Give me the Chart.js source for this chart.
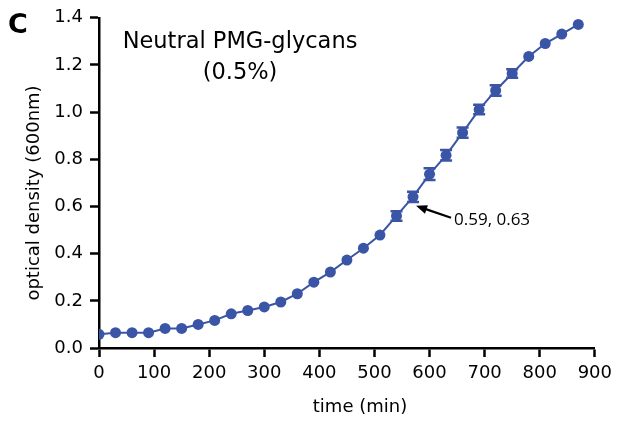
<!DOCTYPE html>
<html>
<head>
<meta charset="utf-8">
<script src="https://cdn.jsdelivr.net/npm/chart.js@4/dist/chart.umd.min.js"></script>
<style>
  html, body { margin: 0; padding: 0; background: #fff; }
  #wrap { width: 618px; height: 422px; position: relative; }
</style>
</head>
<body>
<div id="wrap"><canvas id="growth"></canvas></div>
<script>
// growth curve, one reading every 30 min
const times = [0, 30, 60, 90, 120, 150, 180, 210, 240, 270, 300, 330, 360, 390, 420,
  450, 480, 510, 540, 570, 600, 630, 660, 690, 720, 750, 780, 810, 840, 870];
const od600 = [0.058, 0.065, 0.065, 0.065, 0.083, 0.083, 0.100, 0.117, 0.145, 0.159,
  0.174, 0.195, 0.230, 0.279, 0.322, 0.373, 0.423, 0.479, 0.560, 0.641,
  0.737, 0.817, 0.913, 1.011, 1.092, 1.164, 1.236, 1.291, 1.331, 1.372];
const sem = [0, 0, 0, 0, 0, 0, 0, 0, 0, 0,
  0, 0, 0, 0, 0, 0, 0, 0, 0.02, 0.022,
  0.025, 0.022, 0.022, 0.02, 0.022, 0.018, 0, 0, 0, 0];
const xTicks = [0, 100, 200, 300, 400, 500, 600, 700, 800, 900];
const yTicks = [0.0, 0.2, 0.4, 0.6, 0.8, 1.0, 1.2, 1.4];

const titleLines = ['Neutral PMG-glycans', '(0.5%)'];
const xTitle = 'time (min)';
const yTitle = 'optical density (600nm)';
const panelLetter = 'C';
const noteIndex = 19;          // the point the arrow points at
const noteText = '0.59, 0.63';

const blue = '#3a55a6';
const sans = "'DejaVu Sans', Verdana, sans-serif";

const points = times.map((t, i) => ({ x: t, y: od600[i] }));

// error bars with caps, drawn through the scales
const errorBars = {
  id: 'errorBars',
  afterDatasetsDraw(chart) {
    const { ctx, scales: { x, y } } = chart;
    ctx.save();
    ctx.strokeStyle = blue;
    ctx.lineWidth = 2.5;
    times.forEach((t, i) => {
      if (!sem[i]) return;
      const px = x.getPixelForValue(t);
      const top = y.getPixelForValue(od600[i] + sem[i]);
      const bot = y.getPixelForValue(od600[i] - sem[i]);
      ctx.beginPath();
      ctx.moveTo(px, top); ctx.lineTo(px, bot);
      ctx.moveTo(px - 6, top); ctx.lineTo(px + 6, top);
      ctx.moveTo(px - 6, bot); ctx.lineTo(px + 6, bot);
      ctx.stroke();
    });
    ctx.restore();
  }
};

// panel letter, titles and the arrow note
const decorations = {
  id: 'decorations',
  afterDraw(chart) {
    const { ctx, scales: { x, y } } = chart;
    ctx.save();
    ctx.fillStyle = '#000';
    ctx.textBaseline = 'middle';

    ctx.font = 'bold 27px ' + sans;
    ctx.textAlign = 'left';
    ctx.fillText(panelLetter, 8, 26);

    ctx.font = '22.5px ' + sans;
    ctx.textAlign = 'center';
    ctx.fillText(titleLines[0], 240, 42);
    ctx.fillText(titleLines[1], 240, 73);

    ctx.font = '18px ' + sans;
    ctx.fillText(xTitle, 360, 407);
    ctx.save();
    ctx.translate(34, 193);
    ctx.rotate(-Math.PI / 2);
    ctx.fillText(yTitle, 0, 0);
    ctx.restore();

    const px = x.getPixelForValue(times[noteIndex]);
    const py = y.getPixelForValue(od600[noteIndex]);
    const tipX = px + 3, tipY = py + 9;
    const tailX = px + 38, tailY = py + 21;
    const ang = Math.atan2(tipY - tailY, tipX - tailX);
    ctx.strokeStyle = '#000';
    ctx.lineWidth = 2.2;
    ctx.beginPath();
    ctx.moveTo(tailX, tailY);
    ctx.lineTo(tipX - 8 * Math.cos(ang), tipY - 8 * Math.sin(ang));
    ctx.stroke();
    ctx.beginPath();
    ctx.moveTo(tipX, tipY);
    ctx.lineTo(tipX - 11 * Math.cos(ang) + 4.5 * Math.sin(ang), tipY - 11 * Math.sin(ang) - 4.5 * Math.cos(ang));
    ctx.lineTo(tipX - 11 * Math.cos(ang) - 4.5 * Math.sin(ang), tipY - 11 * Math.sin(ang) + 4.5 * Math.cos(ang));
    ctx.closePath();
    ctx.fill();

    ctx.font = "17px 'Open Sans', 'Noto Sans', sans-serif";
    ctx.textAlign = 'left';
    ctx.fillText(noteText, px + 41, py + 23);
    ctx.restore();
  }
};

const axisLine = { color: '#000', width: 2.5 };
const tickMarks = { display: true, drawOnChartArea: false, drawTicks: true, tickLength: 9, tickWidth: 2.5, tickColor: '#000' };

new Chart(document.getElementById('growth'), {
  type: 'line',
  data: {
    datasets: [{
      data: points,
      borderColor: blue,
      backgroundColor: blue,
      borderWidth: 2,
      pointRadius: 5.5,
      pointBorderWidth: 0,
      pointBackgroundColor: blue,
      tension: 0
    }]
  },
  options: {
    responsive: true,
    maintainAspectRatio: false,
    animation: false,
    layout: { padding: { left: 0, top: 16, right: 23, bottom: 0 } },
    plugins: { legend: { display: false }, tooltip: { enabled: false } },
    scales: {
      x: {
        type: 'linear',
        min: 0,
        max: 900,
        afterBuildTicks: s => { s.ticks = xTicks.map(v => ({ value: v })); },
        afterFit: s => { s.height = 74; },
        border: axisLine,
        grid: tickMarks,
        ticks: { color: '#000', padding: 6, maxRotation: 0, font: { family: sans, size: 18 } }
      },
      y: {
        min: 0,
        max: 1.4,
        afterBuildTicks: s => { s.ticks = yTicks.map(v => ({ value: v })); },
        afterFit: s => { s.width = 99; },
        border: axisLine,
        grid: tickMarks,
        ticks: { color: '#000', padding: 7, font: { family: sans, size: 18 }, callback: v => v.toFixed(1) }
      }
    }
  },
  plugins: [errorBars, decorations]
});
</script>
</body>
</html>
